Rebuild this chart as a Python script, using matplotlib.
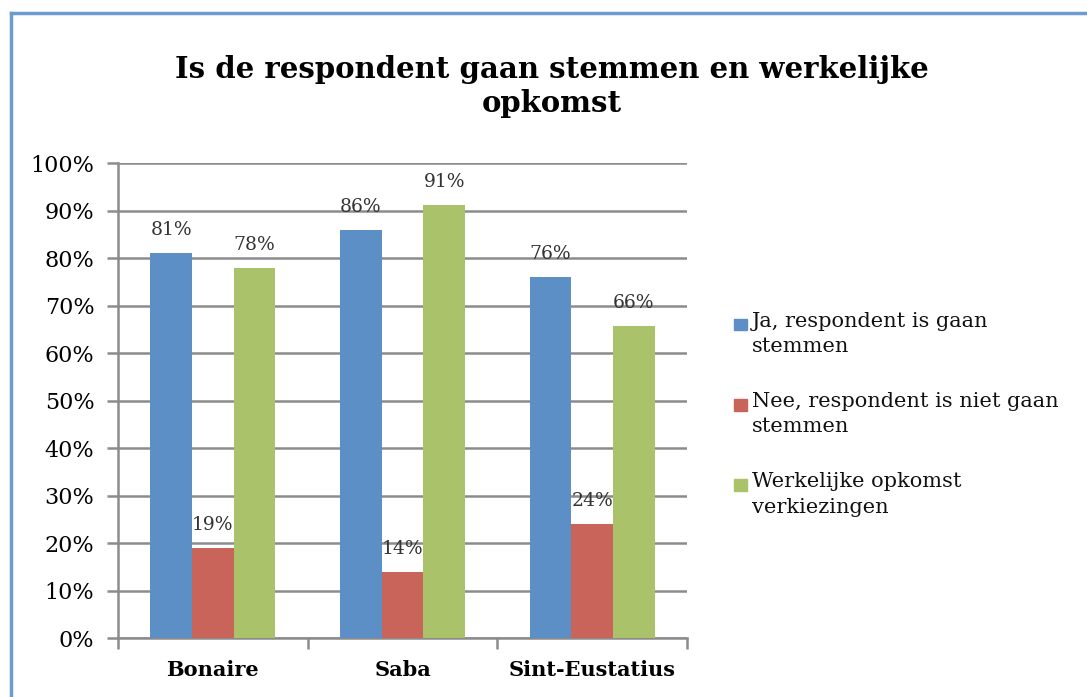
import numpy as np
import matplotlib.pyplot as plt
from matplotlib.patches import Rectangle
from matplotlib.ticker import PercentFormatter

# data
eilanden = ["Bonaire", "Saba", "Sint-Eustatius"]
ja_gestemd = [81, 86, 76]
nee_gestemd = [19, 14, 24]
opkomst = [78, 91.2, 65.7]
opkomst_labels = ["78%", "91%", "66%"]
reeksen = ["Ja, respondent is gaan\nstemmen",
           "Nee, respondent is niet gaan\nstemmen",
           "Werkelijke opkomst\nverkiezingen"]
kleuren = ["#5b8fc5", "#c9645b", "#aac26a"]

plt.rcParams['font.family'] = ['DejaVu Serif']

fig = plt.figure(figsize=(10.87, 6.97), dpi=100)
ax = fig.add_axes([0.1086, 0.0846, 0.5234, 0.6815])

x = np.arange(len(eilanden))
w = 0.22
series = [ja_gestemd, nee_gestemd, opkomst]
for i, (vals, kl) in enumerate(zip(series, kleuren)):
    bars = ax.bar(x + (i - 1) * w, vals, w, color=kl, zorder=3)
    if i == 2:
        labs = opkomst_labels
    else:
        labs = ["%d%%" % v for v in vals]
    for b, lab in zip(bars, labs):
        ax.annotate(lab, (b.get_x() + b.get_width() / 2, b.get_height()),
                    xytext=(0, 10), textcoords="offset points",
                    ha="center", va="bottom", fontsize=13.5, color="#333333")

ax.set_xlim(-0.5, 2.5)
ax.set_ylim(0, 100)
ax.set_yticks(np.arange(0, 101, 10))
ax.yaxis.set_major_formatter(PercentFormatter(decimals=0))
ax.grid(axis="y", color="#8c8c8c", lw=1.8, zorder=0)
for s in ["top", "right"]:
    ax.spines[s].set_visible(False)
for s in ["left", "bottom"]:
    ax.spines[s].set_color("#8c8c8c")
    ax.spines[s].set_linewidth(1.8)

ax.set_xticks(x)
ax.set_xticklabels(eilanden, fontsize=15, fontweight="bold")
ax.tick_params(axis="x", length=0, pad=16)
ax.set_xticks([-0.5, 0.5, 1.5, 2.5], minor=True)
ax.tick_params(axis="x", which="minor", length=8, width=1.8, color="#8c8c8c")
ax.tick_params(axis="y", length=8, width=1.8, color="#8c8c8c",
               labelsize=16, pad=9)

fig.text(0.508, 0.876, "Is de respondent gaan stemmen en werkelijke\nopkomst",
         ha="center", va="center", fontsize=21, fontweight="bold",
         linespacing=1.25)

# legenda
leg_y = [0.527, 0.412, 0.297]
for yy, lab, kl in zip(leg_y, reeksen, kleuren):
    fig.add_artist(Rectangle((0.675, yy - 0.001), 0.012, 0.017,
                             transform=fig.transFigure, color=kl))
    fig.text(0.692, yy + 0.026, lab, ha="left", va="top", fontsize=15,
             linespacing=1.45, color="#111111")

# rand
fig.add_artist(plt.Line2D([0.010, 0.010], [0, 0.981], color="#6c9bd2",
                          lw=2.5, transform=fig.transFigure))
fig.add_artist(plt.Line2D([0.010, 1], [0.981, 0.981], color="#6c9bd2",
                          lw=2.5, transform=fig.transFigure))

fig.savefig("out.png", dpi=100)
